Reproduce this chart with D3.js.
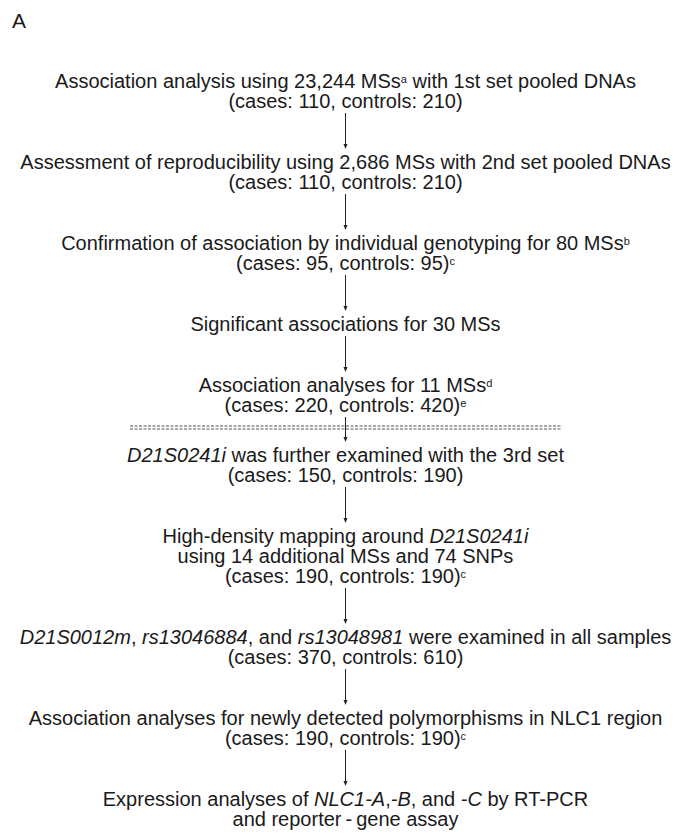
<!DOCTYPE html>
<html>
<head>
<meta charset="utf-8">
<script src="https://cdn.jsdelivr.net/npm/d3@7"></script>
<style>
  body { margin: 0; background: #fff; }
  text { font-family: "Liberation Sans", Arial, sans-serif; fill: #1a1a1a; }
</style>
</head>
<body>
<div class="canvas"></div>
<script>
const dims = { width: 678, height: 840 };

// flow steps: descriptive lines (_x_ = italic, ^x = superscript note)
const stepText = [
  ["Association analysis using 23,244 MSs^a with 1st set pooled DNAs"],
  ["Assessment of reproducibility using 2,686 MSs with 2nd set pooled DNAs"],
  ["Confirmation of association by individual genotyping for 80 MSs^b"],
  ["Significant associations for 30 MSs"],
  ["Association analyses for 11 MSs^d"],
  ["_D21S0241i_ was further examined with the 3rd set"],
  ["High-density mapping around _D21S0241i_", "using 14 additional MSs and 74 SNPs"],
  ["_D21S0012m_, _rs13046884_, and _rs13048981_ were examined in all samples"],
  ["Association analyses for newly detected polymorphisms in NLC1 region"],
  ["Expression analyses of _NLC1-A_,_-B_, and _-C_ by RT-PCR", "and reporter\u2009-\u2009gene assay"]
];
// sample sizes per step (null = none shown)
const cases    = [110, 110, 95, null, 220, 150, 190, 370, 190, null];
const controls = [210, 210, 95, null, 420, 190, 190, 610, 190, null];
const sampleNote = ["", "", "c", "", "e", "", "c", "", "c", ""];
const dividerAfter = 4;   // dashed divider between step 5 and 6
const panelLabel = "A";

const svg = d3.select('.canvas')
  .append('svg')
  .attr('width', dims.width)
  .attr('height', dims.height);

const cx = 345.5;
const lineH = 20;
const stepGap = 61;
const dividerGap = 50;
const fontSize = 20;

// build line list with y positions
const steps = stepText.map((lines, i) => {
  const all = lines.slice();
  if (cases[i] != null) {
    all.push(`(cases: ${cases[i]}, controls: ${controls[i]})` + (sampleNote[i] ? '^' + sampleNote[i] : ''));
  }
  return all;
});

let y = 81;
const layout = [];
steps.forEach((lines, i) => {
  if (i > 0) y += (i - 1 === dividerAfter) ? dividerGap : stepGap;
  const ys = lines.map((l, j) => (j > 0 ? (y += lineH) : y));
  layout.push({ lines, ys });
});

// markup parser
const parse = s => {
  const out = [];
  const re = /_([^_]+)_|\^(\w)|([^_^]+)/g;
  let m;
  while ((m = re.exec(s)) !== null) {
    if (m[1]) out.push({ t: m[1], it: true });
    else if (m[2]) out.push({ t: m[2], sup: true });
    else out.push({ t: m[3] });
  }
  return out;
};

svg.append('text')
  .attr('x', 12)
  .attr('y', 28)
  .attr('font-size', 21)
  .text(panelLabel);

layout.forEach(step => {
  step.lines.forEach((line, j) => {
    const txt = svg.append('text')
      .attr('x', cx)
      .attr('y', step.ys[j] + fontSize * 0.35)
      .attr('text-anchor', 'middle')
      .attr('font-size', fontSize);
    let raised = false;
    parse(line).forEach(seg => {
      const ts = txt.append('tspan').text(seg.t);
      if (seg.it) ts.attr('font-style', 'italic');
      if (seg.sup) {
        ts.attr('font-size', 11).attr('dy', -5);
        raised = true;
      } else if (raised) {
        ts.attr('dy', 5);
        raised = false;
      }
    });
  });
});

// arrows between steps
const arrows = svg.append('g').attr('stroke', '#222').attr('fill', '#222');
layout.slice(1).forEach((step, i) => {
  const prev = layout[i];
  const y1 = prev.ys[prev.ys.length - 1] + 12;
  const y2 = step.ys[0] - 14;
  arrows.append('line')
    .attr('x1', cx).attr('x2', cx)
    .attr('y1', y1).attr('y2', y2 - 3)
    .attr('stroke-width', 1);
  arrows.append('path')
    .attr('stroke', 'none')
    .attr('d', `M${cx - 2},${y2 - 4}L${cx + 2},${y2 - 4}L${cx},${y2 + 1}Z`);
});

// dashed divider (double row)
const dY = layout[dividerAfter].ys.slice(-1)[0] + 21;
[0, 3].forEach(off => {
  svg.append('line')
    .attr('x1', 130).attr('x2', 562)
    .attr('y1', dY + off).attr('y2', dY + off)
    .attr('stroke', '#555')
    .attr('stroke-width', 1)
    .attr('stroke-dasharray', '3,1.5');
});
</script>
</body>
</html>
